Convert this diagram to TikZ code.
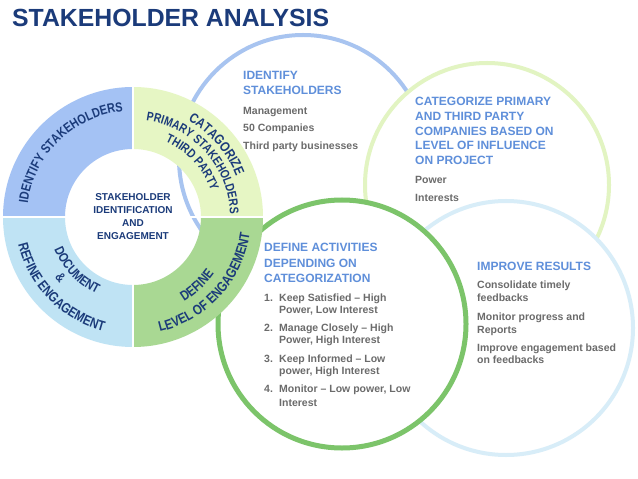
\documentclass[tikz,border=0pt]{standalone}
\usepackage{fontspec}
\setmainfont{Liberation Sans}
\newfontfamily\narrowfont[FakeStretch=0.82]{Liberation Sans}
\usetikzlibrary{calc,decorations.text}
\definecolor{navy}{HTML}{1B3B7A}
\definecolor{hblue}{HTML}{5F8FDA}
\definecolor{tgray}{HTML}{6B6B6B}
\definecolor{qblue}{HTML}{A4C2F4}
\definecolor{qyellow}{HTML}{E6F6C4}
\definecolor{qgreen}{HTML}{A9D893}
\definecolor{qcyan}{HTML}{BFE3F4}
\definecolor{cblue}{HTML}{A8C4F0}
\definecolor{cyellow}{HTML}{E2F4C2}
\definecolor{ccyan}{HTML}{D8EDF8}
\definecolor{cgreen}{HTML}{7CC46A}
\newcommand\arctext[5]{%
  \path[decorate,decoration={text along path,text align=center,text color=navy,
    text={|\narrowfont\bfseries\fontsize{#1bp}{#1bp}\selectfont|#2}}]
    ($(C)+(#4:#3)$) arc[start angle=#4,end angle=#5,radius=#3];}
\tikzset{
  ringline/.style={fill=white,line width=4bp},
  hdr/.style={anchor=base west,inner sep=0pt,text=hblue,font=\bfseries\fontsize{12bp}{14bp}\selectfont},
  body/.style={anchor=base west,inner sep=0pt,text=tgray,font=\bfseries\fontsize{10.5bp}{12bp}\selectfont},
  ctext/.style={anchor=base,inner sep=0pt,text=navy,font=\bfseries\fontsize{10bp}{12bp}\selectfont},
}
\begin{document}
\begin{tikzpicture}[x=1bp,y=1bp]
\path[use as bounding box,fill=white] (0,0) rectangle (638,-479);
% title
\node[anchor=base west,inner sep=0pt,text=navy,font=\bfseries\fontsize{24.8bp}{28bp}\selectfont] (title) at (12,-27) {STAKEHOLDER ANALYSIS};
% big circles
\coordinate (cb) at (303,-159);
\coordinate (cy) at (487,-185);
\coordinate (cc) at (506,-328);
\coordinate (cg) at (342,-324);
\draw[ringline,draw=cblue] (cb) circle[radius=124];
\draw[ringline,draw=cyellow] (cy) circle[radius=122];
\draw[ringline,draw=ccyan] (cc) circle[radius=127];
\draw[ringline,draw=cgreen,line width=5bp] (cg) circle[radius=124];
% donut
\coordinate (C) at (133,-217);
\foreach \a/\b/\c in {90/180/qblue,0/90/qyellow,270/360/qgreen,180/270/qcyan}
  \fill[\c] ($(C)+(\a:130)$) arc[start angle=\a,end angle=\b,radius=130]
     -- ($(C)+(\b:68)$) arc[start angle=\b,end angle=\a,radius=68] -- cycle;
\draw[white,line width=2.5bp] ($(C)+(-132,0)$) -- ($(C)+(132,0)$);
\draw[white,line width=2.5bp] ($(C)+(0,-132)$) -- ($(C)+(0,132)$);
% donut texts
\arctext{13.3}{IDENTIFY STAKEHOLDERS}{106}{178}{90}
\arctext{13.8}{CATAGORIZE}{111}{86}{-4}
\arctext{12.6}{PRIMARY STAKEHOLDERS}{97}{87}{-3}
\arctext{12.6}{THIRD PARTY}{82}{87.5}{-2.5}
\arctext{13.3}{DOCUMENT}{85}{181}{266}
\arctext{13.3}{{\&}}{99}{190}{250}
\arctext{14}{REFINE ENGAGEMENT}{118}{182}{267}
\arctext{13.8}{DEFINE}{99}{-87}{-7}
\arctext{14}{LEVEL OF ENGAGEMENT}{118}{-85}{0}
\node[ctext] (m1) at (133,-200.6) {STAKEHOLDER};
\node[ctext] (m2) at (133,-213.6) {IDENTIFICATION};
\node[ctext] (m3) at (133,-226.6) {AND};
\node[ctext] (m4) at (133,-239.6) {ENGAGEMENT};
% identify block
\node[hdr] (a1) at (243,-79.3) {IDENTIFY};
\node[hdr] (a2) at (243,-94.3) {STAKEHOLDERS};
\node[body] (a3) at (243,-114.5) {Management};
\node[body] (a4) at (243,-131.8) {50 Companies};
\node[body] (a5) at (243,-149.8) {Third party businesses};
% categorize block
\node[hdr] (b1) at (415,-106) {CATEGORIZE PRIMARY};
\node[hdr] (b2) at (415,-120.6) {AND THIRD PARTY};
\node[hdr] (b3) at (415,-135.2) {COMPANIES BASED ON};
\node[hdr] (b4) at (415,-149.8) {LEVEL OF INFLUENCE};
\node[hdr] (b5) at (415,-164.4) {ON PROJECT};
\node[body] (b6) at (415,-183.8) {Power};
\node[body] (b7) at (415,-201.8) {Interests};
% define block
\node[hdr] (d1) at (264,-251.6) {DEFINE ACTIVITIES};
\node[hdr] (d2) at (264,-267) {DEPENDING ON};
\node[hdr] (d3) at (264,-282) {CATEGORIZATION};
\node[body] (n1) at (264,-301.5) {1.};
\node[body] (i1a) at (279,-301.5) {Keep Satisfied – High};
\node[body] (i1b) at (279,-313.1) {Power, Low Interest};
\node[body] (n2) at (264,-331.5) {2.};
\node[body] (i2a) at (279,-331.5) {Manage Closely – High};
\node[body] (i2b) at (279,-343.8) {Power, High Interest};
\node[body] (n3) at (264,-362.1) {3.};
\node[body] (i3a) at (279,-362.1) {Keep Informed – Low};
\node[body] (i3b) at (279,-374.5) {power, High Interest};
\node[body] (n4) at (264,-392.8) {4.};
\node[body] (i4a) at (279,-392.8) {Monitor – Low power, Low};
\node[body] (i4b) at (279,-406.1) {Interest};
% improve block
\node[hdr] (e1) at (477,-270.3) {IMPROVE RESULTS};
\node[body] (e2) at (477,-288.8) {Consolidate timely};
\node[body] (e3) at (477,-301.5) {feedbacks};
\node[body] (e4) at (477,-320.5) {Monitor progress and};
\node[body] (e5) at (477,-333.1) {Reports};
\node[body] (e6) at (477,-351.1) {Improve engagement based};
\node[body] (e7) at (477,-363.8) {on feedbacks};
\end{tikzpicture}
\end{document}
